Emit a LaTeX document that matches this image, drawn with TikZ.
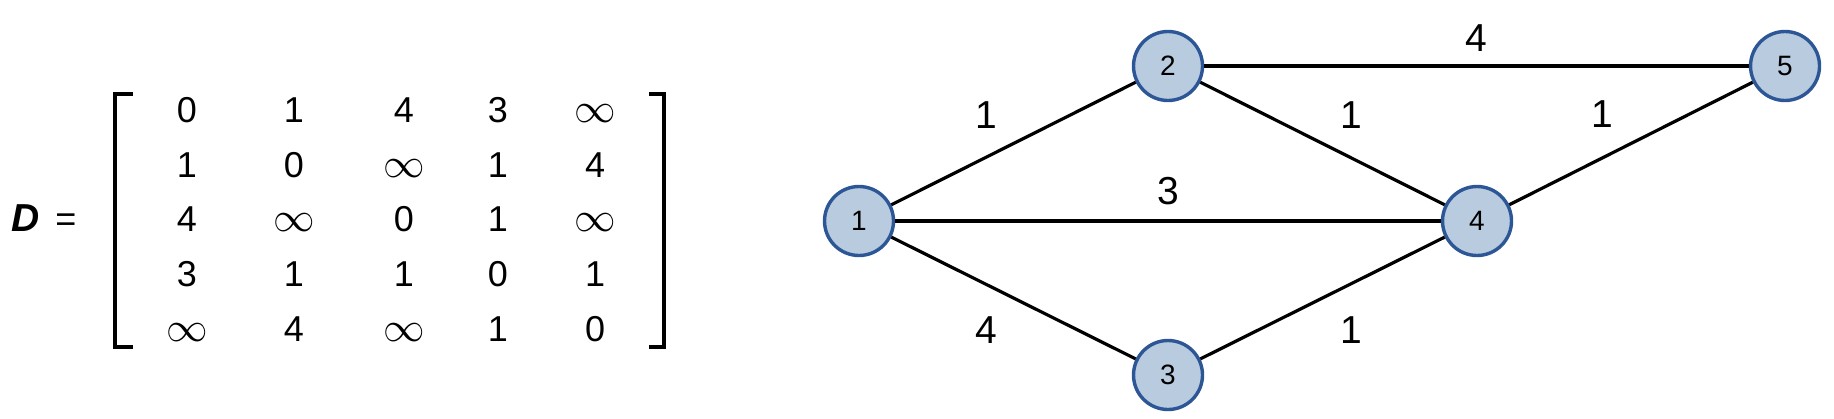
\documentclass[tikz,border=0pt]{standalone}
\usepackage{fontspec}
\setmainfont{Liberation Sans}
\definecolor{nodefill}{RGB}{184,203,223}
\definecolor{nodeborder}{RGB}{44,86,150}
\newcommand{\inff}{{\fontsize{21}{21}\selectfont$\infty$}}
\begin{document}
\begin{tikzpicture}[x=0.5pt,y=-0.5pt,
  vtx/.style={circle, draw=nodeborder, fill=nodefill, line width=1.7pt, minimum size=34.5pt, inner sep=0pt, font=\fontsize{14}{14}\selectfont},
  edge/.style={line width=1.6pt, black},
  wlbl/.style={font=\fontsize{19.5}{19.5}\selectfont, inner sep=0pt},
  ent/.style={anchor=base, inner sep=0pt, font=\fontsize{18}{18}\selectfont},
  brk/.style={line width=2pt, line join=miter}]
\useasboundingbox (0,0) rectangle (1834,418);

% matrix label
\node[ent, font=\fontsize{19.5}{19.5}\selectfont] (dname) at (26,231.5) {\textbf{\textit{D}}};
\node[ent] (eq) at (66,231.5) {=};

% brackets
\draw[brk] (133,94) -- (115,94) -- (115,347) -- (133,347);
\draw[brk] (649,94) -- (663.5,94) -- (663.5,347) -- (649,347);

% row 1
\node[ent] (m11) at (187,122.5) {0};
\node[ent] (m12) at (294,122.5) {1};
\node[ent] (m13) at (404,122.5) {4};
\node[ent] (m14) at (498,122.5) {3};
\node[ent] (m15) at (595,122.5) {\inff};
% row 2
\node[ent] (m21) at (187,177) {1};
\node[ent] (m22) at (294,177) {0};
\node[ent] (m23) at (404,177) {\inff};
\node[ent] (m24) at (498,177) {1};
\node[ent] (m25) at (595,177) {4};
% row 3
\node[ent] (m31) at (187,231.5) {4};
\node[ent] (m32) at (294,231.5) {\inff};
\node[ent] (m33) at (404,231.5) {0};
\node[ent] (m34) at (498,231.5) {1};
\node[ent] (m35) at (595,231.5) {\inff};
% row 4
\node[ent] (m41) at (187,286) {3};
\node[ent] (m42) at (294,286) {1};
\node[ent] (m43) at (404,286) {1};
\node[ent] (m44) at (498,286) {0};
\node[ent] (m45) at (595,286) {1};
% row 5
\node[ent] (m51) at (187,341) {\inff};
\node[ent] (m52) at (294,341) {4};
\node[ent] (m53) at (404,341) {\inff};
\node[ent] (m54) at (498,341) {1};
\node[ent] (m55) at (595,341) {0};

% graph nodes
\node[vtx] (n1) at (859,221) {1};
\node[vtx] (n2) at (1168,66) {2};
\node[vtx] (n3) at (1168,375) {3};
\node[vtx] (n4) at (1477,221) {4};
\node[vtx] (n5) at (1785,66) {5};

% edges
\draw[edge] (n1) -- node[wlbl, xshift=-13.5pt, yshift=14.25pt] {1} (n2);
\draw[edge] (n1) -- node[wlbl, yshift=15pt] {3} (n4);
\draw[edge] (n1) -- node[wlbl, xshift=-13.5pt, yshift=-16pt] {4} (n3);
\draw[edge] (n2) -- node[wlbl, xshift=14.5pt, yshift=14.25pt] {1} (n4);
\draw[edge] (n3) -- node[wlbl, xshift=14.5pt, yshift=-16pt] {1} (n4);
\draw[edge] (n2) -- node[wlbl, yshift=14pt] {4} (n5);
\draw[edge] (n4) -- node[wlbl, xshift=-14.5pt, yshift=14.75pt] {1} (n5);
\end{tikzpicture}
\end{document}
